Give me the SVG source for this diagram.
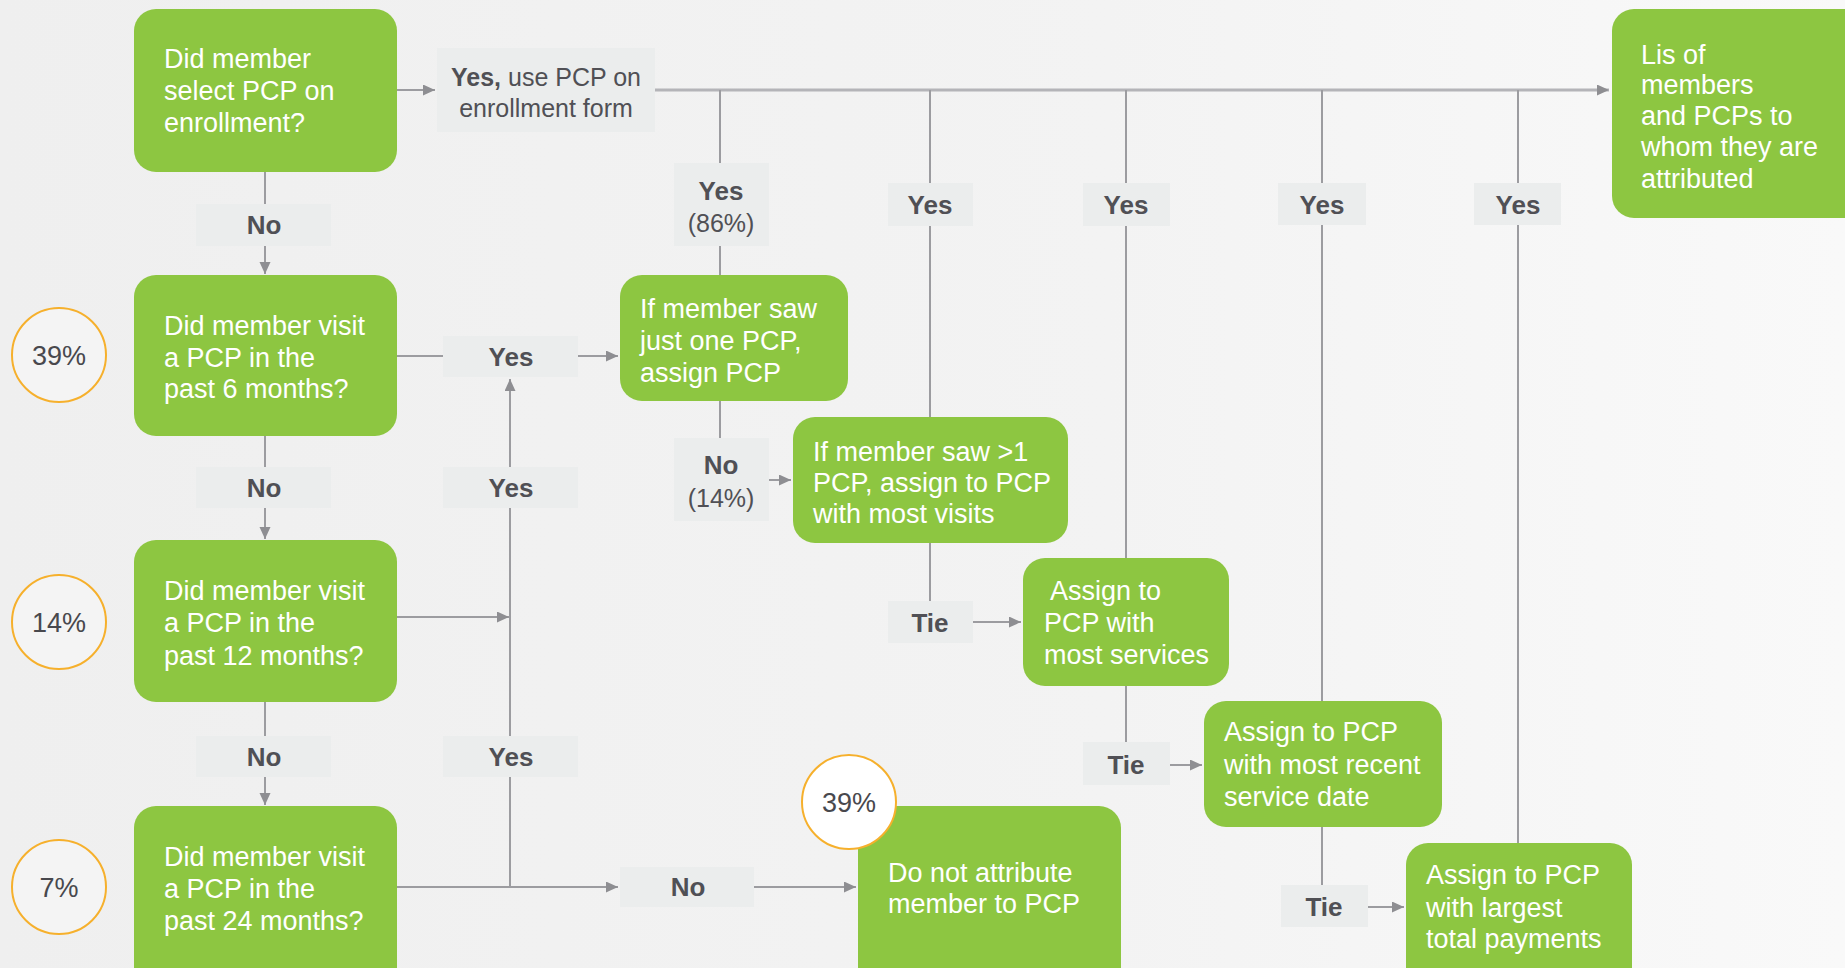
<svg xmlns="http://www.w3.org/2000/svg" width="1845" height="968" viewBox="0 0 1845 968">
<defs>
<linearGradient id="bg" x1="0" y1="0" x2="1" y2="0">
<stop offset="0" stop-color="#EFEFEF"/>
<stop offset="0.6" stop-color="#F3F3F3"/>
<stop offset="1" stop-color="#F9F9F9"/>
</linearGradient>
<marker id="arr" markerUnits="userSpaceOnUse" markerWidth="14" markerHeight="12" refX="12" refY="5.5" orient="auto">
<path d="M0,0 L12,5.5 L0,11 z" fill="#8E8E92"/>
</marker>
<style>
.box{fill:#8DC641;}
.bt{font-family:"Liberation Sans",Arial,sans-serif;font-size:27px;fill:#FFFFFF;}
.lab{fill:#EBEDED;}
.lt{font-family:"Liberation Sans",Arial,sans-serif;font-size:26px;font-weight:bold;fill:#505055;text-anchor:middle;}
.ls{font-family:"Liberation Sans",Arial,sans-serif;font-size:25px;fill:#505055;text-anchor:middle;}
.c{fill:none;stroke:#9C9CA0;stroke-width:2;}
.main{fill:none;stroke:#B4B4B8;stroke-width:3;}
.circ{fill:#F4F4F4;stroke:#F6B02C;stroke-width:2;}
.ct{font-family:"Liberation Sans",Arial,sans-serif;font-size:27px;fill:#48484D;text-anchor:middle;}
</style>
</defs>
<rect x="0" y="0" width="1845" height="968" fill="url(#bg)"/>

<g id="connectors">
<line class="c" x1="265" y1="172" x2="265" y2="204"/>
<line class="c" x1="265" y1="246" x2="265" y2="274" marker-end="url(#arr)"/>
<line class="c" x1="397" y1="90" x2="435" y2="90" marker-end="url(#arr)"/>
<line class="main" x1="655" y1="90" x2="1609" y2="90" marker-end="url(#arr)"/>
<line class="c" x1="720" y1="90" x2="720" y2="163"/>
<line class="c" x1="720" y1="246" x2="720" y2="275"/>
<line class="c" x1="930" y1="90" x2="930" y2="183"/>
<line class="c" x1="930" y1="226" x2="930" y2="417"/>
<line class="c" x1="1126" y1="90" x2="1126" y2="183"/>
<line class="c" x1="1126" y1="226" x2="1126" y2="558"/>
<line class="c" x1="1322" y1="90" x2="1322" y2="183"/>
<line class="c" x1="1322" y1="225" x2="1322" y2="701"/>
<line class="c" x1="1518" y1="90" x2="1518" y2="183"/>
<line class="c" x1="1518" y1="225" x2="1518" y2="843"/>
<line class="c" x1="720" y1="401" x2="720" y2="438"/>
<line class="c" x1="769" y1="480" x2="791" y2="480" marker-end="url(#arr)"/>
<line class="c" x1="930" y1="543" x2="930" y2="601"/>
<line class="c" x1="973" y1="622" x2="1021" y2="622" marker-end="url(#arr)"/>
<line class="c" x1="1126" y1="686" x2="1126" y2="742"/>
<line class="c" x1="1170" y1="765" x2="1202" y2="765" marker-end="url(#arr)"/>
<line class="c" x1="1322" y1="827" x2="1322" y2="885"/>
<line class="c" x1="1368" y1="907" x2="1404" y2="907" marker-end="url(#arr)"/>
<line class="c" x1="397" y1="356" x2="443" y2="356"/>
<line class="c" x1="578" y1="356" x2="618" y2="356" marker-end="url(#arr)"/>
<line class="c" x1="510" y1="887" x2="510" y2="777"/>
<line class="c" x1="510" y1="736" x2="510" y2="508"/>
<line class="c" x1="510" y1="467" x2="510" y2="379" marker-end="url(#arr)"/>
<line class="c" x1="397" y1="617" x2="509" y2="617" marker-end="url(#arr)"/>
<line class="c" x1="397" y1="887" x2="618" y2="887" marker-end="url(#arr)"/>
<line class="c" x1="754" y1="887" x2="856" y2="887" marker-end="url(#arr)"/>
<line class="c" x1="265" y1="436" x2="265" y2="467"/>
<line class="c" x1="265" y1="508" x2="265" y2="539" marker-end="url(#arr)"/>
<line class="c" x1="265" y1="702" x2="265" y2="736"/>
<line class="c" x1="265" y1="777" x2="265" y2="805" marker-end="url(#arr)"/>
</g>

<g id="labels">
<g id="lab-yes-enroll"><rect class="lab" x="437" y="48" width="218" height="84"/>
<text class="ls" x="546" y="86"><tspan font-weight="bold">Yes,</tspan> use PCP on</text>
<text class="ls" x="546" y="117">enrollment form</text></g>
<g id="lab-no1"><rect class="lab" x="196" y="204" width="135" height="42"/><text class="lt" x="264" y="234">No</text></g>
<g id="lab-yes86"><rect class="lab" x="674" y="163" width="95" height="83"/><text class="lt" x="721" y="200">Yes</text><text class="ls" x="721" y="232">(86%)</text></g>
<g id="lab-yes2"><rect class="lab" x="888" y="183" width="85" height="43"/><text class="lt" x="930" y="214">Yes</text></g>
<g id="lab-yes3"><rect class="lab" x="1083" y="183" width="87" height="43"/><text class="lt" x="1126" y="214">Yes</text></g>
<g id="lab-yes4"><rect class="lab" x="1278" y="183" width="88" height="42"/><text class="lt" x="1322" y="214">Yes</text></g>
<g id="lab-yes5"><rect class="lab" x="1474" y="183" width="87" height="42"/><text class="lt" x="1518" y="214">Yes</text></g>
<g id="lab-yesL1"><rect class="lab" x="443" y="336" width="135" height="41"/><text class="lt" x="511" y="366">Yes</text></g>
<g id="lab-no2"><rect class="lab" x="196" y="467" width="135" height="41"/><text class="lt" x="264" y="497">No</text></g>
<g id="lab-yesL2"><rect class="lab" x="443" y="467" width="135" height="41"/><text class="lt" x="511" y="497">Yes</text></g>
<g id="lab-no14"><rect class="lab" x="674" y="438" width="95" height="83"/><text class="lt" x="721" y="474">No</text><text class="ls" x="721" y="507">(14%)</text></g>
<g id="lab-tie1"><rect class="lab" x="888" y="601" width="85" height="42"/><text class="lt" x="930" y="632">Tie</text></g>
<g id="lab-tie2"><rect class="lab" x="1083" y="742" width="87" height="43"/><text class="lt" x="1126" y="774">Tie</text></g>
<g id="lab-no3"><rect class="lab" x="196" y="736" width="135" height="41"/><text class="lt" x="264" y="766">No</text></g>
<g id="lab-yesL3"><rect class="lab" x="443" y="736" width="135" height="41"/><text class="lt" x="511" y="766">Yes</text></g>
<g id="lab-tie3"><rect class="lab" x="1281" y="885" width="87" height="42"/><text class="lt" x="1324" y="916">Tie</text></g>
<g id="lab-no4"><rect class="lab" x="620" y="867" width="134" height="40"/><text class="lt" x="688" y="896">No</text></g>
</g>

<g id="n-enroll"><rect class="box" x="134" y="9" width="263" height="163" rx="22"/>
<text class="bt" x="164" y="68">Did member</text><text class="bt" x="164" y="100">select PCP on</text><text class="bt" x="164" y="132">enrollment?</text></g>
<g id="n-6m"><rect class="box" x="134" y="275" width="263" height="161" rx="22"/>
<text class="bt" x="164" y="335">Did member visit</text><text class="bt" x="164" y="367">a PCP in the</text><text class="bt" x="164" y="398">past 6 months?</text></g>
<g id="n-12m"><rect class="box" x="134" y="540" width="263" height="162" rx="22"/>
<text class="bt" x="164" y="600">Did member visit</text><text class="bt" x="164" y="632">a PCP in the</text><text class="bt" x="164" y="665">past 12 months?</text></g>
<g id="n-24m"><rect class="box" x="134" y="806" width="263" height="185" rx="22"/>
<text class="bt" x="164" y="866">Did member visit</text><text class="bt" x="164" y="898">a PCP in the</text><text class="bt" x="164" y="930">past 24 months?</text></g>
<g id="n-one"><rect class="box" x="620" y="275" width="228" height="126" rx="22"/>
<text class="bt" x="640" y="318">If member saw</text><text class="bt" x="640" y="350">just one PCP,</text><text class="bt" x="640" y="382">assign PCP</text></g>
<g id="n-visits"><rect class="box" x="793" y="417" width="275" height="126" rx="22"/>
<text class="bt" x="813" y="461">If member saw &gt;1</text><text class="bt" x="813" y="492">PCP, assign to PCP</text><text class="bt" x="813" y="523">with most visits</text></g>
<g id="n-services"><rect class="box" x="1023" y="558" width="206" height="128" rx="22"/>
<text class="bt" x="1050" y="600">Assign to</text><text class="bt" x="1044" y="632">PCP with</text><text class="bt" x="1044" y="664">most services</text></g>
<g id="n-recent"><rect class="box" x="1204" y="701" width="238" height="126" rx="22"/>
<text class="bt" x="1224" y="741">Assign to PCP</text><text class="bt" x="1224" y="774">with most recent</text><text class="bt" x="1224" y="806">service date</text></g>
<g id="n-payments"><rect class="box" x="1406" y="843" width="226" height="150" rx="22"/>
<text class="bt" x="1426" y="884">Assign to PCP</text><text class="bt" x="1426" y="917">with largest</text><text class="bt" x="1426" y="948">total payments</text></g>
<g id="n-none"><rect class="box" x="858" y="806" width="263" height="185" rx="22"/>
<text class="bt" x="888" y="882">Do not attribute</text><text class="bt" x="888" y="913">member to PCP</text></g>
<g id="n-list"><rect class="box" x="1612" y="9" width="260" height="209" rx="22"/>
<text class="bt" x="1641" y="64">Lis of</text><text class="bt" x="1641" y="94">members</text><text class="bt" x="1641" y="125">and PCPs to</text><text class="bt" x="1641" y="156">whom they are</text><text class="bt" x="1641" y="188">attributed</text></g>

<g id="c-39a"><ellipse class="circ" cx="59" cy="355" rx="47" ry="47"/><text class="ct" x="59" y="365">39%</text></g>
<g id="c-14"><ellipse class="circ" cx="59" cy="622" rx="47" ry="47"/><text class="ct" x="59" y="632">14%</text></g>
<g id="c-7"><ellipse class="circ" cx="59" cy="887" rx="47" ry="47"/><text class="ct" x="59" y="897">7%</text></g>
<g id="c-39b"><ellipse class="circ" cx="849" cy="802" rx="47" ry="47" style="fill:#FFFFFF"/><text class="ct" x="849" y="812">39%</text></g>
</svg>
